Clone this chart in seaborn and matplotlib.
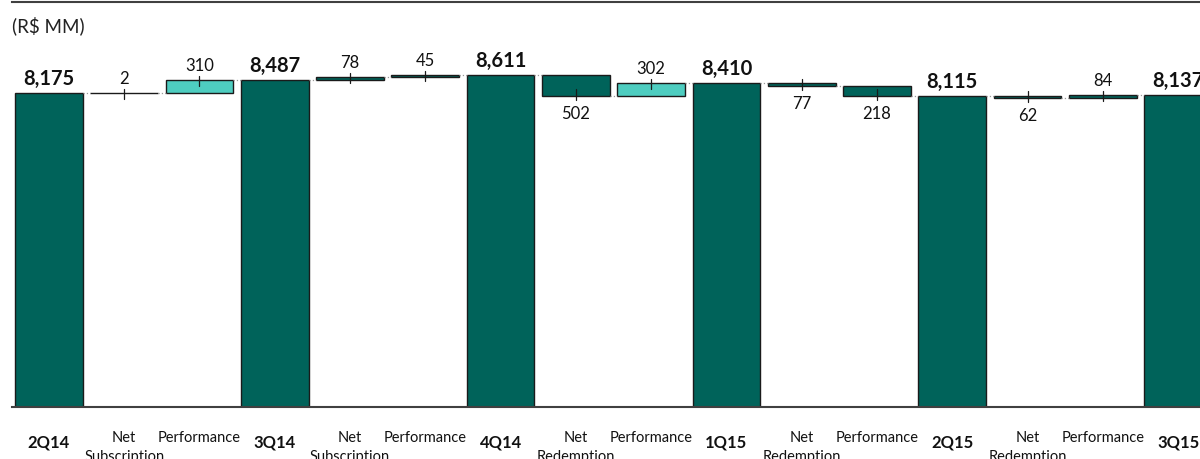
import numpy as np
import pandas as pd
import matplotlib
matplotlib.use("Agg")
import matplotlib.pyplot as plt
import seaborn as sns

# ---- data ----
categories = ["2Q14", "Net\nSubscription", "Performance",
              "3Q14", "Net\nSubscription", "Performance",
              "4Q14", "Net\nRedemption", "Performance",
              "1Q15", "Net\nRedemption", "Performance",
              "2Q15", "Net\nRedemption", "Performance",
              "3Q15"]
is_total = [True, False, False, True, False, False, True, False, False,
            True, False, False, True, False, False, True]
values = [8175, 2, 310, 8487, 78, 45, 8611, -502, 302, 8410, -77, -218,
          8115, -62, 84, 8137]
highlight = [2, 8]  # bars drawn in the light colour

# ---- styles ----
DARK = "#00635A"
LIGHT = "#4ECDC0"
EDGE = "#1a1a1a"
LINE = "#404040"

sns.set_style("white")
plt.rcParams["font.family"] = ["Lato", "DejaVu Sans"]

n = len(values)
bottoms, heights, levels = [], [], []
level = 0
for v, t in zip(values, is_total):
    if t:
        bottoms.append(0)
        heights.append(v)
        level = v
    else:
        bottoms.append(level)
        heights.append(v)
        level += v
    levels.append(level)

fig = plt.figure(figsize=(12, 4.59), dpi=100)
W, H = 1200, 459
ax = fig.add_axes([12 / W, 1 - 407 / H, 1 - 12 / W, 405 / H])

df = pd.DataFrame({"pos": np.arange(n), "height": heights})
sns.barplot(data=df, x="pos", y="height", bottom=np.array(bottoms, float),
            width=0.9, errorbar=None, ax=ax, color=DARK,
            edgecolor=EDGE, linewidth=1.0)

for i, p in enumerate(ax.patches):
    p.set_facecolor(LIGHT if i in highlight else DARK)
    p.set_edgecolor(EDGE)
    p.set_linewidth(1.0)

ymin, ymax = 639, 10359
ax.set_ylim(ymin, ymax)
ax.set_xlim(-0.49, 15.29)
ax.set_xlabel("")
ax.set_ylabel("")
ax.set_xticks([])
ax.set_yticks([])
for s in ["left", "right"]:
    ax.spines[s].set_visible(False)
for s in ["top", "bottom"]:
    ax.spines[s].set_color(LINE)
    ax.spines[s].set_linewidth(1.5)

upp = (ymax - ymin) / 405.0  # data units per pixel

# connectors
for i in range(n - 1):
    ax.plot([i + 0.45, i + 0.55], [levels[i], levels[i]], color="#9a9a9a",
            lw=0.9, ls=":", zorder=1)

# value labels
for i, (v, t) in enumerate(zip(values, is_total)):
    if t:
        ax.annotate(f"{v:,}", (i, v), xytext=(0, 10), textcoords="offset points",
                    ha="center", va="center", fontsize=14.5, fontweight="bold",
                    color="#111111")
    else:
        top = max(bottoms[i], bottoms[i] + v)
        bot = min(bottoms[i], bottoms[i] + v)
        if v >= 0:
            ax.annotate(f"{abs(v):,}", (i, top), xytext=(0, 10),
                        textcoords="offset points", ha="center", va="center",
                        fontsize=12, color="#111111")
            ax.plot([i, i], [top - 6 * upp, top + 4 * upp], color=EDGE, lw=0.9)
        else:
            ax.annotate(f"{abs(v):,}", (i, bot), xytext=(0, -13),
                        textcoords="offset points", ha="center", va="center",
                        fontsize=12, color="#111111")
            ax.plot([i, i], [bot + 7 * upp, bot - 4 * upp], color=EDGE, lw=0.9)

# category labels
tr = ax.get_xaxis_transform()
for i, (c, t) in enumerate(zip(categories, is_total)):
    if t:
        ax.text(i, -36 / 405, c, transform=tr, ha="center", va="center",
                fontsize=12, fontweight="bold", color="#111111", clip_on=False)
    else:
        ax.text(i, -24 / 405, c, transform=tr, ha="center", va="top",
                fontsize=10.5, color="#111111", linespacing=1.45, clip_on=False)

fig.text(12 / W, 1 - 26 / H, "(R$ MM)", ha="left", va="center", fontsize=13.5,
         color="#222222")

fig.savefig("out.png", dpi=100)
